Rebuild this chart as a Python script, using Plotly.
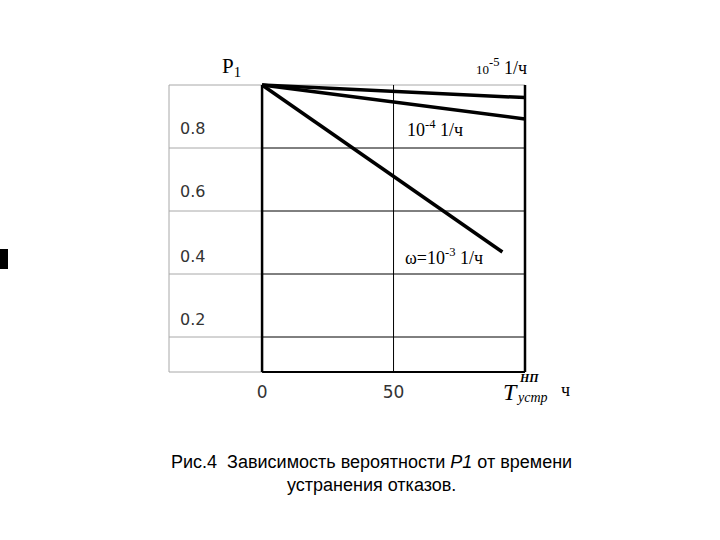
import plotly.graph_objects as go

# Data
t_values = [0, 100]
p_1e5 = [1.0, 0.96]
p_1e4 = [1.0, 0.892]
t_1e3 = [0, 91.4]
p_1e3 = [1.0, 0.47]
x_ticks = [0, 50]
x_tick_labels = ["0", "50"]
y_labels = ["0.8", "0.6", "0.4", "0.2"]
y_label_pos = [0.863, 0.663, 0.457, 0.257]
grid_y = [0.8, 0.6, 0.4, 0.2]

XMIN, XMAX = -35.4, 100.0
YMIN, YMAX = 0.0889, 1.0
XPAD = 3 / 2.63   # 3 px of padding so border lines are not clipped
YPAD = 3 / 315.0

# plot area on screen: 166..528 x 82..375
L, R, T, B = 166, 528, 82, 375

def px(xp):
    return (xp - L) / float(R - L)

def py(yp):
    return (B - yp) / float(B - T)

fig = go.Figure()
line_style = dict(color="black", width=3.5)
fig.add_trace(go.Scatter(x=t_values, y=p_1e5, mode="lines", line=line_style, showlegend=False))
fig.add_trace(go.Scatter(x=t_values, y=p_1e4, mode="lines", line=line_style, showlegend=False))
fig.add_trace(go.Scatter(x=t_1e3, y=p_1e3, mode="lines", line=line_style, showlegend=False))

shapes = []
gray = "#a8a8a8"
for yv in grid_y + [YMAX, YMIN]:
    shapes.append(dict(type="line", xref="x", yref="y", x0=XMIN, x1=0, y0=yv, y1=yv,
                       line=dict(color=gray, width=1), layer="below"))
shapes.append(dict(type="line", xref="x", yref="y", x0=XMIN, x1=XMIN, y0=YMIN, y1=YMAX,
                   line=dict(color=gray, width=1), layer="below"))
shapes.append(dict(type="line", xref="x", yref="y", x0=0, x1=XMAX, y0=YMAX, y1=YMAX,
                   line=dict(color=gray, width=1), layer="below"))
for yv in grid_y:
    shapes.append(dict(type="line", xref="x", yref="y", x0=0, x1=XMAX, y0=yv, y1=yv,
                       line=dict(color="black", width=1), layer="below"))
shapes.append(dict(type="line", xref="x", yref="y", x0=0, x1=XMAX, y0=YMIN, y1=YMIN,
                   line=dict(color="black", width=2), layer="below"))
shapes.append(dict(type="line", xref="x", yref="y", x0=0, x1=0, y0=YMIN, y1=YMAX,
                   line=dict(color="black", width=2.5), layer="below"))
shapes.append(dict(type="line", xref="x", yref="y", x0=50, x1=50, y0=YMIN, y1=YMAX,
                   line=dict(color="black", width=1), layer="below"))
shapes.append(dict(type="line", xref="x", yref="y", x0=XMAX, x1=XMAX, y0=YMIN, y1=YMAX,
                   line=dict(color="black", width=2.5), layer="below"))
shapes.append(dict(type="rect", xref="paper", yref="paper",
                   x0=px(0), x1=px(8), y0=py(269), y1=py(249),
                   fillcolor="black", line=dict(width=0)))

serif = "Liberation Serif"
sans = "DejaVu Sans"
ann = []
for lab, yp in zip(y_labels, y_label_pos):
    ann.append(dict(x=-31.9, y=yp, text=lab, showarrow=False, xanchor="left", yanchor="middle",
                    font=dict(family=sans, size=16, color="#333")))
ann.append(dict(xref="paper", yref="paper", x=px(231), y=py(67), text="P<sub>1</sub>",
                showarrow=False, xanchor="center", yanchor="middle",
                font=dict(family=serif, size=21, color="black")))
ann.append(dict(xref="paper", yref="paper", x=px(529), y=py(67),
                text="<span style='font-size:13px'>10</span><sup>-5</sup> 1/ч",
                showarrow=False, xanchor="right", yanchor="middle",
                font=dict(family=serif, size=18, color="black")))
ann.append(dict(x=54.4, y=0.863, text="10<sup>-4</sup> 1/ч", showarrow=False, xanchor="left",
                yanchor="middle", font=dict(family=serif, size=18, color="black")))
ann.append(dict(x=53.6, y=0.457, text="ω=10<sup>-3</sup> 1/ч", showarrow=False, xanchor="left",
                yanchor="middle", font=dict(family=serif, size=18, color="black")))
# axis title pieces
ann.append(dict(xref="paper", yref="paper", x=px(510), y=py(392), text="<i>T</i>",
                showarrow=False, xanchor="center", yanchor="middle",
                font=dict(family=serif, size=24, color="black")))
ann.append(dict(xref="paper", yref="paper", x=px(529), y=py(378), text="<i><b>НП</b></i>",
                showarrow=False, xanchor="center", yanchor="middle",
                font=dict(family=serif, size=12, color="black")))
ann.append(dict(xref="paper", yref="paper", x=px(532), y=py(397), text="<i>устр</i>",
                showarrow=False, xanchor="center", yanchor="middle",
                font=dict(family=serif, size=14, color="black")))
ann.append(dict(xref="paper", yref="paper", x=px(565), y=py(390), text="ч",
                showarrow=False, xanchor="center", yanchor="middle",
                font=dict(family=serif, size=18, color="black")))
# caption
ann.append(dict(xref="paper", yref="paper", x=px(371), y=py(462),
                text="Рис.4  Зависимость вероятности <i>P1</i> от времени", showarrow=False,
                xanchor="center", yanchor="middle",
                font=dict(family="Liberation Sans", size=18, color="black")))
ann.append(dict(xref="paper", yref="paper", x=px(371), y=py(485),
                text="устранения отказов.", showarrow=False, xanchor="center", yanchor="middle",
                font=dict(family="Liberation Sans", size=18, color="black")))

fig.update_layout(
    width=720, height=540,
    margin=dict(l=L, r=720 - R, t=T, b=540 - B),
    plot_bgcolor="white", paper_bgcolor="white",
    shapes=shapes, annotations=ann,
    xaxis=dict(range=[XMIN - XPAD, XMAX + XPAD], tickvals=x_ticks, ticktext=x_tick_labels,
               showgrid=False, zeroline=False, showline=False, ticks="", ticklabelstandoff=5,
               tickfont=dict(family=sans, size=17, color="#333")),
    yaxis=dict(range=[YMIN - YPAD, YMAX + YPAD], showgrid=False, zeroline=False, showline=False,
               showticklabels=False, ticks=""),
)
fig.write_html("out.html", config={"displayModeBar": False},
               post_script="document.body.style.margin='0px';")
